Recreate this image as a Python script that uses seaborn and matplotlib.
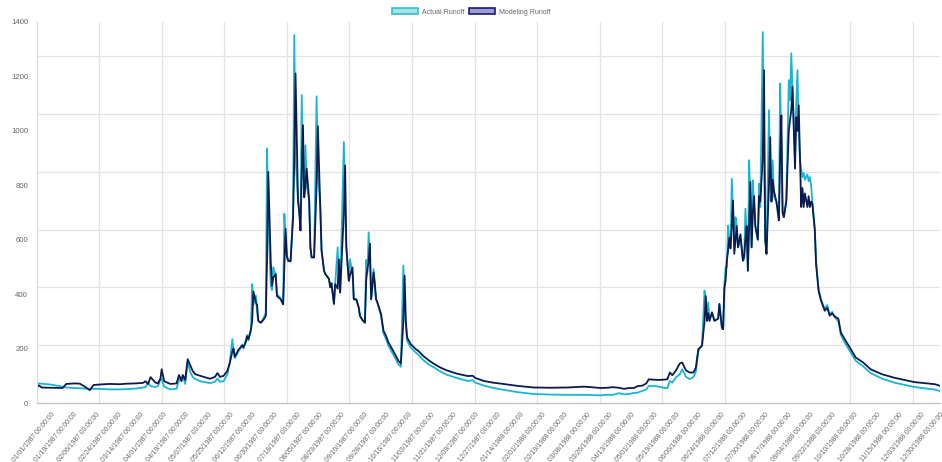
import matplotlib
matplotlib.use("Agg")
import matplotlib.pyplot as plt
import numpy as np
import pandas as pd
import seaborn as sns
from matplotlib.patches import Patch

# ---- data (day index since 01/01/1987) ----
day = [
    0, 2, 4, 11, 21, 24, 31, 35, 39, 43,
    46, 51, 59, 67, 73, 80, 86, 88, 90, 92,
    96, 98, 100, 101, 103, 108, 113, 115, 117, 118,
    120, 122, 124, 126, 128, 132, 140, 144, 146, 148,
    151, 154, 156, 158, 159, 160, 163, 166, 167, 169,
    170, 171, 173, 174, 175, 177, 178, 179, 181, 183,
    185, 186, 187, 189, 190, 191, 193, 194, 197, 199,
    200, 201, 202, 203, 205, 206, 207, 208, 209, 211,
    212, 213, 214, 215, 216, 217, 218, 220, 221, 222,
    224, 226, 227, 229, 230, 232, 233, 236, 237, 238,
    240, 241, 243, 244, 245, 248, 249, 250, 252, 253,
    255, 256, 258, 260, 261, 263, 265, 266, 267, 268,
    269, 270, 272, 273, 274, 275, 278, 280, 282, 284,
    287, 290, 292, 294, 296, 297, 298, 299, 302, 306,
    308, 312, 317, 321, 326, 331, 339, 348, 352, 354,
    361, 368, 375, 388, 401, 415, 428, 442, 448, 455,
    460, 465, 470, 474, 478, 482, 485, 489, 492, 494,
    500, 504, 509, 511, 513, 516, 519, 521, 524, 527,
    530, 532, 534, 537, 539, 540, 541, 542, 543, 545,
    547, 550, 551, 553, 554, 555, 556, 557, 558, 559,
    560, 561, 562, 563, 564, 565, 566, 568, 570, 571,
    572, 573, 574, 575, 576, 577, 578, 579, 580, 582,
    583, 584, 586, 587, 588, 589, 591, 592, 593, 594,
    595, 597, 598, 599, 600, 601, 602, 603, 605, 607,
    608, 609, 610, 612, 613, 614, 615, 616, 617, 618,
    619, 620, 622, 623, 624, 625, 626, 628, 629, 631,
    633, 636, 638, 640, 642, 644, 647, 649, 653, 657,
    661, 667, 673, 682, 692, 708, 725, 729,
]

actual_runoff = [
    73, 72, 71, 68, 60, 57, 55, 54, 53, 52,
    52, 52, 50, 50, 51, 53, 57, 58, 75, 62,
    59, 62, 85, 88, 60, 50, 52, 87, 80, 100,
    70, 152, 115, 95, 89, 80, 73, 78, 90, 78,
    80, 105, 150, 235, 195, 165, 190, 215, 200, 235,
    250, 230, 265, 437, 360, 394, 330, 300, 295, 310,
    330, 935, 700, 434, 415, 499, 470, 400, 385, 365,
    695, 600, 540, 520, 525, 610, 700, 1352, 900, 744,
    714, 634, 1131, 850, 756, 947, 800, 744, 572, 535,
    535, 1127, 850, 720, 561, 486, 474, 456, 425, 440,
    364, 437, 572, 460, 406, 959, 700, 572, 449, 528,
    470, 381, 381, 351, 320, 305, 295, 526, 480, 627,
    540, 381, 492, 420, 381, 370, 320, 255, 235, 210,
    185, 160, 142, 133, 505, 350, 290, 228, 204, 185,
    178, 158, 140, 130, 115, 104, 92, 81, 84, 75,
    64, 56, 50, 40, 33, 31, 30, 30, 29, 28,
    30, 30, 36, 32, 33, 37, 38, 45, 50, 63,
    62, 58, 54, 81, 75, 95, 105, 124, 96, 88,
    95, 115, 190, 215, 413, 370, 302, 370, 302, 333,
    302, 310, 364, 277, 271, 437, 499, 500, 652, 600,
    568, 824, 700, 600, 683, 650, 572, 600, 523, 530,
    714, 620, 486, 892, 750, 572, 818, 720, 650, 600,
    806, 720, 1363, 900, 600, 548, 1076, 850, 740, 892,
    760, 740, 700, 671, 1174, 950, 700, 683, 750, 1186,
    1113, 1285, 1150, 900, 1100, 1223, 1000, 892, 860, 830,
    845, 820, 840, 815, 830, 800, 740, 640, 520, 420,
    380, 345, 360, 325, 335, 315, 300, 250, 215, 185,
    155, 135, 110, 90, 75, 59, 49, 44,
]

modeling_runoff = [
    55, 65, 57, 56, 55, 70, 72, 71, 60, 47,
    66, 68, 70, 69, 71, 72, 74, 80, 70, 95,
    75, 72, 90, 124, 80, 70, 72, 103, 81, 103,
    85, 161, 140, 118, 106, 100, 89, 96, 110, 96,
    100, 118, 148, 189, 200, 170, 196, 211, 205, 225,
    245, 235, 270, 300, 410, 370, 360, 302, 295, 305,
    320, 520, 849, 520, 430, 460, 474, 393, 381, 362,
    500, 640, 542, 524, 520, 600, 680, 900, 1211, 744,
    700, 634, 850, 1021, 756, 800, 861, 744, 572, 535,
    535, 800, 1017, 720, 561, 486, 474, 456, 425, 440,
    364, 437, 420, 528, 406, 700, 873, 572, 449, 470,
    498, 381, 381, 351, 320, 305, 295, 450, 494, 520,
    585, 381, 480, 440, 381, 370, 327, 265, 247, 222,
    198, 173, 155, 145, 300, 468, 302, 241, 216, 198,
    192, 173, 155, 143, 130, 120, 108, 99, 100, 92,
    81, 75, 71, 63, 57, 56, 57, 60, 58, 55,
    56, 58, 56, 52, 55, 55, 62, 64, 72, 87,
    85, 85, 87, 112, 102, 120, 145, 149, 120, 112,
    112, 130, 198, 210, 300, 393, 302, 330, 302, 333,
    302, 310, 364, 277, 271, 420, 450, 523, 560, 607,
    568, 650, 744, 548, 600, 650, 572, 620, 523, 540,
    600, 650, 486, 650, 812, 572, 700, 760, 650, 600,
    760, 740, 900, 1223, 600, 548, 800, 977, 740, 820,
    780, 740, 710, 671, 900, 1057, 700, 683, 740, 1000,
    1040, 1076, 1162, 861, 1050, 1000, 1094, 900, 720, 790,
    720, 770, 720, 760, 720, 740, 732, 634, 511, 413,
    376, 339, 350, 321, 330, 318, 310, 259, 228, 198,
    167, 149, 124, 106, 93, 77, 69, 63,
]

series_names = ["Actual Runoff", "Modeling Runoff"]

tick_dates = [
    "01/01/1987", "01/19/1987", "02/06/1987", "02/24/1987", "03/14/1987",
    "04/01/1987", "04/19/1987", "05/07/1987", "05/25/1987", "06/12/1987",
    "06/30/1987", "07/18/1987", "08/05/1987", "08/23/1987", "09/10/1987",
    "09/28/1987", "10/16/1987", "11/03/1987", "11/21/1987", "12/09/1987",
    "12/27/1987", "01/14/1988", "02/01/1988", "02/19/1988", "03/08/1988",
    "03/26/1988", "04/13/1988", "05/01/1988", "05/19/1988", "06/06/1988",
    "06/24/1988", "07/12/1988", "07/30/1988", "08/17/1988", "09/04/1988",
    "09/22/1988", "10/10/1988", "10/28/1988", "11/15/1988", "12/03/1988",
    "12/30/1988",
]
y_ticks = [0, 200, 400, 600, 800, 1000, 1200, 1400]

# ---- style ----
CYAN = "#19b6cf"
NAVY = "#0c1a4f"
CYAN_FILL = "#a3e4ea"
CYAN_EDGE = "#36bccb"
NAVY_FILL = "#9b9bd6"
NAVY_EDGE = "#1b1b70"
GRID = "#e3e3e3"
TXT = "#666666"
TICK_SHIFT = 12          # label ticks sit slightly right of the first data point
LAST_DAY = 729

sns.set_style("white")
plt.rcParams["font.family"] = ["Liberation Sans", "DejaVu Sans"]

df = pd.DataFrame({
    "day": day + day,
    "runoff": actual_runoff + modeling_runoff,
    "series": [series_names[0]] * len(day) + [series_names[1]] * len(day),
})

fig = plt.figure(figsize=(9.42, 4.62), dpi=100)
ax = fig.add_axes([36.5 / 942, 1 - 403 / 462, (940 - 36.5) / 942, (403 - 22) / 462])

sns.lineplot(data=df, x="day", y="runoff", hue="series", hue_order=series_names,
             palette=[CYAN, NAVY], linewidth=1.3, estimator=None, legend=False, ax=ax)

ax.set_xlim(0, LAST_DAY)
ax.set_ylim(0, 1400)
ax.set_xlabel("")
ax.set_ylabel("")

start = pd.Timestamp("1987-01-01")
tpos = [min((pd.to_datetime(d, format="%m/%d/%Y") - start).days + TICK_SHIFT, LAST_DAY)
        for d in tick_dates]
ax.set_xticks(tpos)
ax.set_xticklabels([d + " 00:00:00" for d in tick_dates], rotation=50,
                   ha="right", rotation_mode="anchor", fontsize=4.9)
ax.set_yticks(y_ticks)
ax.set_yticklabels([str(v) for v in y_ticks], fontsize=5.6)

# grid lines (independent spacing as in the reference)
ax.set_xticks(np.arange(1, 15) * 50.5, minor=True)
ax.set_yticks(np.arange(1, 7) * 212.5, minor=True)
ax.grid(False, which="major")
ax.grid(True, which="minor", color=GRID, linewidth=0.9)
ax.tick_params(which="minor", length=0)
ax.tick_params(which="major", length=4, width=0.8, color="#cfcfcf",
               labelcolor=TXT, pad=2)

for s in ["top", "right"]:
    ax.spines[s].set_visible(False)
ax.spines["left"].set_color("#dcdcdc")
ax.spines["bottom"].set_color("#bdbdbd")
ax.spines["left"].set_linewidth(0.9)
ax.spines["bottom"].set_linewidth(0.9)

handles = [Patch(facecolor=CYAN_FILL, edgecolor=CYAN_EDGE, linewidth=1.2, label=series_names[0]),
           Patch(facecolor=NAVY_FILL, edgecolor=NAVY_EDGE, linewidth=1.2, label=series_names[1])]
fig.legend(handles=handles, loc="center", bbox_to_anchor=(0.5, 1 - 12 / 462), ncol=2,
           frameon=False, fontsize=5.0, handlelength=3.75, handleheight=0.95,
           handletextpad=0.55, columnspacing=0.7, labelcolor=TXT)

fig.savefig("out.png", dpi=100)
